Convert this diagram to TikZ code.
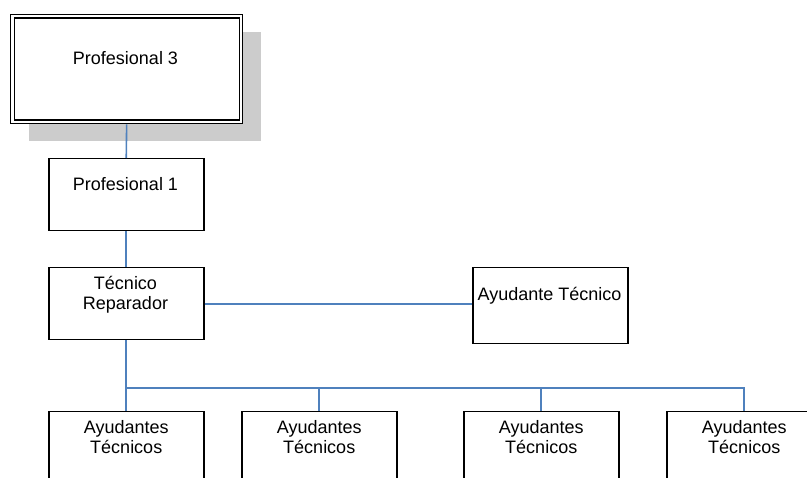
\documentclass[tikz,border=0pt]{standalone}
\usepackage{fontspec}
\setmainfont{Liberation Sans}
\definecolor{conn}{HTML}{4F81BD}
\definecolor{shadowgray}{HTML}{CCCCCC}
\begin{document}
\begin{tikzpicture}[x=1pt,y=-1pt,
  box/.style={draw=black,line width=1.5pt,fill=white,rectangle,minimum width=155pt,minimum height=72pt,anchor=north west,inner sep=0pt},
  txt/.style={anchor=base,inner sep=0pt,font=\fontsize{18}{21}\selectfont},
  link/.style={draw=conn,line width=1.6pt}]
\useasboundingbox (0,0) rectangle (807,478);
\clip (0,0) rectangle (807,478);
% shadow and double frame
\fill[shadowgray] (29,32) rectangle (261,141);
\node[box,minimum width=232pt,minimum height=109pt,line width=1.3pt] (p3) at (10,14) {};
\node[draw=black,line width=1.3pt,rectangle,minimum width=225pt,minimum height=102pt,anchor=north west,inner sep=0pt] (p3in) at (13.5,17.5) {};
\node[txt] (p3t) at (125.5,64.5) {Profesional 3};
% level boxes
\node[box] (p1) at (48,158) {};
\node[txt] (p1t) at (125.5,190.5) {Profesional 1};
\node[box] (tec) at (48,267) {};
\node[txt] (tect1) at (125.5,289.5) {Técnico};
\node[txt] (tect2) at (125.5,309.5) {Reparador};
\node[box,minimum height=76pt] (ayu) at (472,267) {};
\node[txt] (ayut) at (549.5,300.5) {Ayudante Técnico};
% bottom row
\node[box,minimum height=80pt] (b1) at (48,411) {};
\node[box,minimum height=80pt] (b2) at (241,411) {};
\node[box,minimum height=80pt] (b3) at (463,411) {};
\node[box,minimum height=80pt] (b4) at (666,411) {};
\foreach \n in {b1,b2,b3,b4}{
  \node[txt] (\n t1) at ([yshift=-22.5pt]\n.north) {Ayudantes};
  \node[txt] (\n t2) at ([yshift=-42.5pt]\n.north) {Técnicos};
}
\coordinate (bus) at (0,388);
% connectors
\draw[link] (p3.south) -- (p1.north);
\draw[link] (p1.south) -- (tec.north);
\draw[link] (tec.east) -- (ayu.west |- tec.east);
\draw[link] (tec.south) -- (b1.north);
\draw[link] (tec.south |- bus) -| (b4.north);
\draw[link] (b2.north |- bus) -- (b2.north);
\draw[link] (b3.north |- bus) -- (b3.north);
\end{tikzpicture}
\end{document}
